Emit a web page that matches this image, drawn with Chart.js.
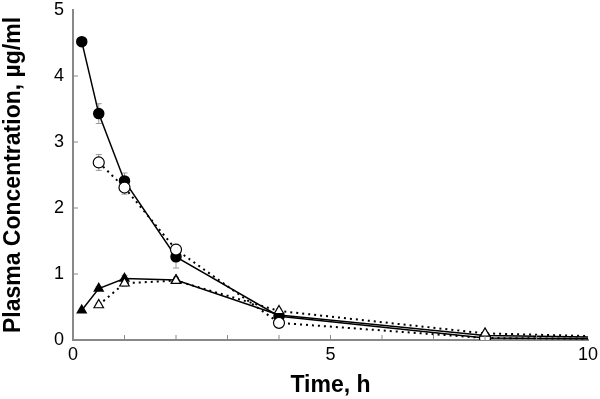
<!DOCTYPE html>
<html>
<head>
<meta charset="utf-8">
<script src="https://cdn.jsdelivr.net/npm/chart.js@4"></script>
<style>
  html, body { margin: 0; padding: 0; background: #fff; }
  #wrap { width: 600px; height: 399px; }
</style>
</head>
<body>
<div id="wrap"><canvas id="pk"></canvas></div>
<script>
// sampling times (h); last point runs off the axis so the curves reach the right edge
const timesA = [0.17, 0.5, 1, 2, 4, 8, 12];
const timesB = [0.5, 1, 2, 4, 8, 12];

// plasma concentration, ug/ml
const filledCircle = [4.52, 3.43, 2.41, 1.26, 0.36, 0.03, 0.01];
const openCircle = [2.69, 2.31, 1.37, 0.26, 0.03, 0.01];
const filledTriangle = [0.45, 0.78, 0.93, 0.91, 0.38, 0.07, 0.02];
const openTriangle = [0.53, 0.86, 0.90, 0.44, 0.10, 0.02];

// +/- error (ug/ml)
const errFilledCircle = [0, 0.15, 0.12, 0.17, 0.05, 0, 0];
const errOpenCircle = [0.12, 0.1, 0.08, 0.04, 0, 0];
const errFilledTriangle = [0, 0.03, 0.05, 0.04, 0.03, 0, 0];
const errOpenTriangle = [0.03, 0.05, 0.04, 0.03, 0, 0];

const xTicks = [0, 5, 10];
const yTicks = [0, 1, 2, 3, 4, 5];

function pts(xs, ys) {
    return xs.map((x, i) => ({ x: x, y: ys[i] }));
}
function radii(xs, r) {
    return xs.map(x => (x > 10 ? 0 : r));
}

// error bars (behind the marks) and inward tick marks, placed through the scales
const extras = {
    id: 'extras',
    beforeDatasetsDraw(chart) {
        const { ctx, scales: { x, y } } = chart;
        ctx.save();
        ctx.strokeStyle = '#999';
        ctx.lineWidth = 1;
        chart.data.datasets.forEach(ds => {
            (ds.err || []).forEach((e, i) => {
                const p = ds.data[i];
                if (!e || p.x > 10) return;
                const px = x.getPixelForValue(p.x);
                const y1 = y.getPixelForValue(p.y + e);
                const y2 = y.getPixelForValue(p.y - e);
                ctx.beginPath();
                ctx.moveTo(px, y1); ctx.lineTo(px, y2);
                ctx.moveTo(px - 3, y1); ctx.lineTo(px + 3, y1);
                ctx.moveTo(px - 3, y2); ctx.lineTo(px + 3, y2);
                ctx.stroke();
            });
        });
        ctx.restore();
    },
    afterDatasetsDraw(chart) {
        const { ctx, scales: { x, y }, chartArea: a } = chart;
        ctx.save();
        ctx.strokeStyle = '#888';
        ctx.lineWidth = 1;
        for (let t = 1; t < 10; t++) {
            const px = x.getPixelForValue(t);
            ctx.beginPath();
            ctx.moveTo(px, a.bottom); ctx.lineTo(px, a.bottom - 5);
            ctx.stroke();
        }
        for (let v = 1; v <= 4; v++) {
            const py = y.getPixelForValue(v);
            ctx.beginPath();
            ctx.moveTo(a.left, py); ctx.lineTo(a.left + 5, py);
            ctx.stroke();
        }
        ctx.restore();
    }
};

const tickFont = { family: 'Liberation Sans', size: 18 };
const titleFont = { family: 'Liberation Sans', size: 23, weight: 'bold' };

new Chart(document.getElementById('pk'), {
    type: 'scatter',
    data: {
        datasets: [
            {
                data: pts(timesA, filledCircle), err: errFilledCircle, order: 2,
                showLine: true, borderColor: '#000', borderWidth: 1.5,
                pointStyle: 'circle', pointRadius: radii(timesA, 5),
                pointBackgroundColor: '#000', pointBorderColor: '#000'
            },
            {
                data: pts(timesB, openCircle), err: errOpenCircle, order: 1,
                showLine: true, borderColor: '#000', borderWidth: 2, borderDash: [2, 4],
                pointStyle: 'circle', pointRadius: radii(timesB, 5.5),
                pointBackgroundColor: '#fff', pointBorderColor: '#000', pointBorderWidth: 1.2
            },
            {
                data: pts(timesA, filledTriangle), err: errFilledTriangle, order: 3,
                showLine: true, borderColor: '#000', borderWidth: 1.5,
                pointStyle: 'triangle', pointRadius: radii(timesA, 5),
                pointBackgroundColor: '#000', pointBorderColor: '#000'
            },
            {
                data: pts(timesB, openTriangle), err: errOpenTriangle, order: 0,
                showLine: true, borderColor: '#000', borderWidth: 2, borderDash: [2, 4],
                pointStyle: 'triangle', pointRadius: radii(timesB, 5.5),
                pointBackgroundColor: '#fff', pointBorderColor: '#000', pointBorderWidth: 1.2
            }
        ]
    },
    options: {
        responsive: true,
        maintainAspectRatio: false,
        animation: false,
        layout: { autoPadding: false, padding: { top: 10, right: 12, bottom: 0, left: 0 } },
        plugins: { legend: { display: false }, tooltip: { enabled: false } },
        elements: { line: { tension: 0 } },
        scales: {
            x: {
                type: 'linear', min: 0, max: 10,
                afterBuildTicks: s => { s.ticks = xTicks.map(v => ({ value: v })); },
                afterFit: s => { s.height = 59; s.paddingLeft = 0; s.paddingRight = 0; },
                grid: { display: false, drawTicks: false },
                border: { color: '#888', width: 2 },
                ticks: { color: '#000', font: tickFont, padding: 4, maxRotation: 0 },
                title: {
                    display: true, text: 'Time, h', color: '#000',
                    font: titleFont, padding: { top: 4, bottom: 0 }
                }
            },
            y: {
                type: 'linear', min: 0, max: 5,
                afterBuildTicks: s => { s.ticks = yTicks.map(v => ({ value: v })); },
                afterFit: s => { s.width = 73; s.paddingTop = 0; s.paddingBottom = 0; },
                grid: { display: false, drawTicks: false },
                border: { color: '#888', width: 2 },
                ticks: { color: '#000', font: tickFont, padding: 9 },
                title: {
                    display: true, text: 'Plasma Concentration, µg/ml', color: '#000',
                    font: titleFont, padding: { top: 0, bottom: 10 }
                }
            }
        }
    },
    plugins: [extras]
});
</script>
</body>
</html>
